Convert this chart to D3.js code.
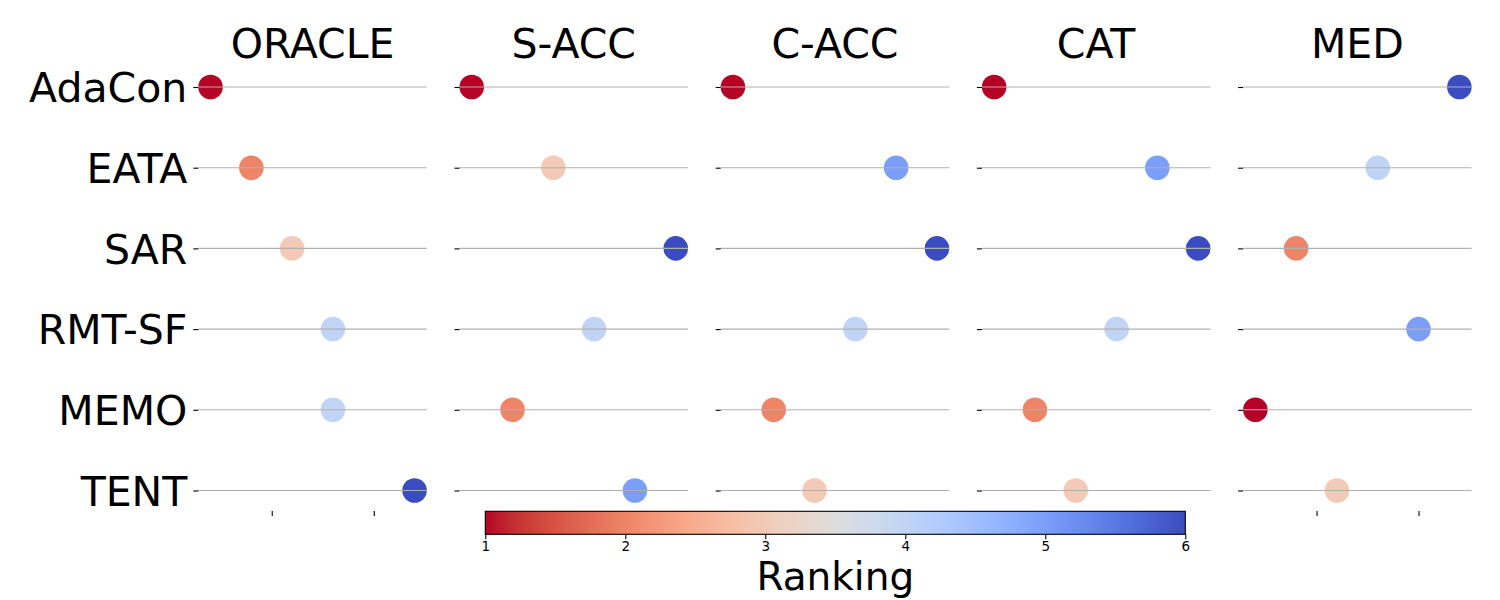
<!DOCTYPE html>
<html>
<head>
<meta charset="utf-8">
<script src="https://cdn.jsdelivr.net/npm/d3@7"></script>
<style>
  body { margin: 0; background: #fff; }
  text { font-family: "DejaVu Sans", sans-serif; }
</style>
</head>
<body>
<div id="chart"></div>
<script>
// ranking data
var methods = ["AdaCon", "EATA", "SAR", "RMT-SF", "MEMO", "TENT"];
var metrics = ["ORACLE", "S-ACC", "C-ACC", "CAT", "MED"];
var oracleRank = [1, 2, 3, 4, 4, 6];
var sAccRank = [1, 3, 6, 4, 2, 5];
var cAccRank = [1, 5, 6, 4, 2, 3];
var catRank = [1, 5, 6, 4, 2, 3];
var medRank = [6, 4, 2, 5, 1, 3];
var xTicks = [2.5, 5];
var cbarTicks = [1, 2, 3, 4, 5, 6];

var ranks = [oracleRank, sAccRank, cAccRank, catRank, medRank];

var svgWidth = 1500;
var svgHeight = 600;

// matplotlib coolwarm (Moreland), 0 -> 1
var coolwarm = ["#3b4cc0", "#445acc", "#4d68d7", "#5775e1", "#6282ea", "#6c8ef1",
  "#779af7", "#82a5fb", "#8db0fe", "#98b9ff", "#a3c2ff", "#aec9fd", "#b8d0f9",
  "#c2d5f4", "#ccd9ee", "#d5dbe6", "#dddddd", "#e5d8d1", "#ecd3c5", "#f1ccb9",
  "#f5c4ad", "#f7bba0", "#f7b194", "#f7a687", "#f49a7b", "#f18d6f", "#ec7f63",
  "#e57058", "#de604d", "#d55042", "#cb3e38", "#c0282f", "#b40426"];
var cw = d3.piecewise(d3.interpolateRgb, coolwarm);
// reversed: rank 1 red, rank 6 blue
var color = d3.scaleSequential(t => cw(1 - t)).domain([1, 6]);

var svg = d3.select("#chart")
  .append("svg")
  .attr("width", svgWidth)
  .attr("height", svgHeight);

var panelLeft = 198.3;
var panelStep = 261.2;
var panelWidth = 228.5;
var axBottom = 511;

var x = d3.scaleLinear()
  .domain([0.7, 6.3])
  .range([0, panelWidth]);

var y = d3.scalePoint()
  .domain(methods)
  .range([87, 490.5]);

metrics.forEach(function(metric, i) {
  var g = svg.append("g")
    .attr("transform", `translate(${panelLeft + i * panelStep}, 0)`);

  // title
  g.append("text")
    .attr("x", panelWidth / 2)
    .attr("y", 58)
    .attr("text-anchor", "middle")
    .attr("font-size", "41px")
    .attr("fill", "#000")
    .text(metric);

  // dots
  g.selectAll("circle")
    .data(methods)
    .enter()
    .append("circle")
    .attr("cx", (d, j) => x(ranks[i][j]))
    .attr("cy", d => y(d))
    .attr("r", 12.3)
    .attr("fill", (d, j) => color(ranks[i][j]));

  // horizontal grid lines, drawn over the dots
  g.selectAll("line.grid")
    .data(methods)
    .enter()
    .append("line")
    .attr("class", "grid")
    .attr("x1", 0)
    .attr("x2", panelWidth)
    .attr("y1", d => y(d))
    .attr("y2", d => y(d))
    .attr("stroke", "#b0b0b0")
    .attr("stroke-width", 1.1);

  // y axis ticks
  var leftAxis = d3.axisLeft(y).tickSize(5).tickPadding(6)
    .tickFormat(i === 0 ? (d => d) : () => "");
  var yAxis = g.append("g").call(leftAxis);
  yAxis.select(".domain").remove();
  yAxis.selectAll("line").attr("stroke-width", 1.1);
  yAxis.selectAll("text")
    .attr("font-size", "41px")
    .attr("font-family", "DejaVu Sans, sans-serif")
    .attr("fill", "#000")
    .attr("dy", "0.36em");

  // x axis ticks, no labels
  var bottomAxis = d3.axisBottom(x).tickValues(xTicks).tickSize(5).tickFormat(() => "");
  var xAxis = g.append("g")
    .attr("transform", `translate(0, ${axBottom})`)
    .call(bottomAxis);
  xAxis.select(".domain").remove();
  xAxis.selectAll("line").attr("stroke-width", 1.1);
});

// colorbar
var cbLeft = 485.3, cbRight = 1185.3, cbTop = 511.3, cbBottom = 534.3;

var defs = svg.append("defs");
var grad = defs.append("linearGradient")
  .attr("id", "cbar")
  .attr("x1", "0%").attr("x2", "100%")
  .attr("y1", "0%").attr("y2", "0%");
grad.selectAll("stop")
  .data(d3.range(0, 1.0001, 0.02))
  .enter()
  .append("stop")
  .attr("offset", d => (d * 100) + "%")
  .attr("stop-color", d => color(1 + d * 5));

var cx = d3.scaleLinear().domain([1, 6]).range([cbLeft, cbRight]);

svg.append("rect")
  .attr("x", cbLeft)
  .attr("y", cbTop)
  .attr("width", cbRight - cbLeft)
  .attr("height", cbBottom - cbTop)
  .attr("fill", "url(#cbar)")
  .attr("stroke", "#000")
  .attr("stroke-width", 1.1);

var cbAxis = svg.append("g")
  .attr("transform", `translate(0, ${cbBottom})`)
  .call(d3.axisBottom(cx).tickValues(cbarTicks).tickSize(5).tickPadding(2).tickFormat(d3.format("d")));
cbAxis.select(".domain").remove();
cbAxis.selectAll("line").attr("stroke-width", 1.1);
cbAxis.selectAll("text")
  .attr("font-size", "13.5px")
  .attr("font-family", "DejaVu Sans, sans-serif")
  .attr("fill", "#000");

svg.append("text")
  .attr("x", (cbLeft + cbRight) / 2)
  .attr("y", 590)
  .attr("text-anchor", "middle")
  .attr("font-size", "39px")
  .attr("fill", "#000")
  .text("Ranking");
</script>
</body>
</html>
